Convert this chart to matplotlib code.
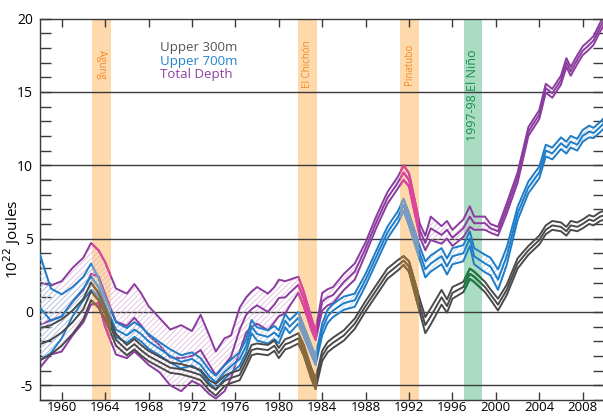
import matplotlib.pyplot as plt
from matplotlib.patches import Rectangle
from matplotlib.ticker import MultipleLocator
import numpy as np

plt.rcParams['font.family'] = ['Open Sans', 'DejaVu Sans']
plt.rcParams['hatch.linewidth'] = 0.5

########################
# Data
########################
years = [1958, 1959, 1960, 1961, 1962, 1962.7, 1963.4, 1964, 1965, 1966,
         1966.7, 1967.3, 1968, 1969, 1970, 1971, 1972, 1972.8, 1973.6, 1974.2,
         1975, 1975.6, 1976.4, 1977, 1977.5, 1978, 1979, 1979.6, 1980, 1980.6,
         1981, 1981.8, 1982.3, 1983, 1983.4, 1984, 1984.5, 1985, 1986, 1987,
         1988, 1989, 1990, 1991, 1991.5, 1992, 1993, 1993.5, 1994, 1995,
         1995.5, 1996, 1997, 1997.6, 1998, 1999, 1999.5, 2000.2, 2001, 2002,
         2003, 2004, 2004.6, 2005.2, 2006, 2006.5, 2006.9, 2007.5, 2008, 2008.6,
         2009, 2009.6, 2010]

# Upper 300m: centre of the bundle and half-width
upper300 = [-2.2, -1.9, -1.4, -0.7, 0.2, 1.4, 0.8, -0.1, -1.9, -2.6,
            -2.2, -2.6, -3.0, -3.4, -3.8, -3.9, -4.1, -4.3, -5.0, -5.3,
            -4.7, -4.5, -4.3, -3.4, -2.6, -2.5, -2.6, -2.3, -2.8, -2.2,
            -2.1, -1.8, -2.6, -4.2, -4.9, -3.0, -2.4, -2.1, -1.6, -0.8,
            0.4, 1.5, 2.6, 3.2, 3.5, 3.1, 0.4, -0.9, -0.3, 1.0,
            0.4, 1.3, 1.7, 2.6, 2.4, 1.7, 1.2, 0.5, 1.5, 3.3,
            4.2, 4.9, 5.6, 5.9, 5.8, 5.5, 5.9, 5.8, 6.0, 6.3,
            6.2, 6.5, 6.6]
upper300_spread = [1.1, 1.0, 0.9, 0.8, 0.7, 0.6, 0.5, 0.4, 0.4, 0.35,
                   0.35, 0.35, 0.35, 0.35, 0.35, 0.35, 0.35, 0.35, 0.35, 0.4,
                   0.35, 0.35, 0.35, 0.35, 0.35, 0.35, 0.35, 0.35, 0.35, 0.35,
                   0.35, 0.35, 0.35, 0.35, 0.35, 0.35, 0.35, 0.35, 0.35, 0.35,
                   0.35, 0.35, 0.35, 0.35, 0.3, 0.35, 0.45, 0.55, 0.55, 0.5,
                   0.45, 0.4, 0.35, 0.35, 0.35, 0.35, 0.35, 0.4, 0.35, 0.35,
                   0.3, 0.3, 0.3, 0.3, 0.3, 0.3, 0.3, 0.3, 0.3, 0.3,
                   0.3, 0.3, 0.3]

# Upper 700m
upper700 = [0.3, -0.6, -0.3, 0.7, 1.6, 2.4, 1.7, 0.5, -1.2, -1.6,
            -1.2, -1.5, -2.0, -2.5, -3.0, -3.4, -3.2, -3.6, -4.4, -4.8,
            -4.1, -3.7, -3.2, -2.3, -1.0, -1.5, -1.7, -1.4, -1.7, -0.6,
            -1.0, -0.4, -1.3, -2.6, -3.3, -1.2, -0.3, 0.1, 0.6, 0.8,
            2.2, 3.8, 5.4, 6.5, 7.3, 6.3, 4.0, 2.9, 3.3, 3.8,
            3.1, 3.8, 4.0, 5.0, 3.8, 3.3, 3.1, 2.2, 3.8, 6.7,
            8.5, 9.5, 11.0, 10.8, 11.5, 11.2, 11.6, 11.4, 12.0, 12.3,
            12.2, 12.6, 12.9]
upper700_spread = [3.6, 2.2, 1.5, 1.0, 0.8, 0.9, 0.6, 0.5, 0.5, 0.5,
                   0.5, 0.5, 0.5, 0.45, 0.45, 0.45, 0.45, 0.45, 0.45, 0.45,
                   0.45, 0.45, 0.45, 0.45, 0.45, 0.45, 0.45, 0.45, 0.45, 0.45,
                   0.45, 0.4, 0.35, 0.3, 0.3, 0.4, 0.45, 0.45, 0.45, 0.45,
                   0.4, 0.4, 0.4, 0.4, 0.4, 0.4, 0.45, 0.55, 0.55, 0.55,
                   0.55, 0.55, 0.55, 0.5, 0.55, 0.6, 0.6, 0.7, 0.6, 0.45,
                   0.4, 0.4, 0.4, 0.4, 0.4, 0.4, 0.4, 0.4, 0.4, 0.4,
                   0.35, 0.35, 0.35]

# Total depth
total_depth = [-0.9, -0.55, -0.3, 0.7, 1.5, 2.6, 2.4, 1.2, -0.65, -0.95,
               -0.4, -0.9, -1.6, -2.25, -3.1, -3.15, -3.0, -2.6, -3.6, -4.3,
               -3.6, -3.05, -1.2, -0.2, 0.2, 0.45, 0.0, 0.5, 0.95, 1.0,
               1.3, 1.85, 0.9, -0.8, -1.6, 0.7, 1.0, 1.15, 2.05, 2.75,
               4.35, 6.15, 7.75, 8.85, 9.5, 9.0, 5.55, 4.7, 5.7, 5.25,
               5.6, 5.05, 5.7, 6.5, 6.05, 6.05, 5.7, 5.5, 7.05, 9.15,
               12.3, 13.45, 15.25, 14.9, 15.8, 17.0, 16.4, 17.2, 17.8, 18.2,
               18.5, 19.4, 19.9]
total_depth_spread = [2.9, 2.35, 2.4, 2.3, 2.2, 2.1, 1.8, 2.2, 2.25, 2.2,
                      2.3, 2.2, 2.0, 1.85, 1.9, 2.25, 1.7, 2.4, 2.0, 1.6,
                      1.8, 1.45, 1.5, 1.2, 1.2, 1.25, 1.25, 1.2, 1.25, 1.1,
                      0.9, 0.55, 0.5, 0.4, 0.3, 0.6, 0.55, 0.55, 0.55, 0.55,
                      0.4, 0.4, 0.4, 0.4, 0.5, 0.45, 0.45, 0.5, 0.8, 0.6,
                      0.6, 0.55, 0.6, 0.7, 0.45, 0.45, 0.3, 0.3, 0.35, 0.35,
                      0.3, 0.3, 0.3, 0.3, 0.3, 0.3, 0.3, 0.3, 0.3, 0.3,
                      0.3, 0.3, 0.3]

# Volcanic eruptions and El Nino periods
volcanoes = ['Agung', 'El Chichón', 'Pinatubo']
volcano_start = [1962.8, 1981.8, 1991.15]
volcano_end = [1964.5, 1983.5, 1992.9]
nino_label = '1997-98 El Niño'
nino_start = 1997.05
nino_end = 1998.7

x = np.array(years)

fig = plt.figure(figsize=(6.03, 4.16), dpi=100)
ax = fig.add_axes([0.0663, 0.0385, 0.936, 0.917])

########################
# Background bands and grid
########################
for s, e in zip(volcano_start, volcano_end):
    ax.axvspan(s, e, color='#fdd9ab', lw=0, zorder=0)
ax.axvspan(nino_start, nino_end, color='#aadcc4', lw=0, zorder=0)

for v in [-5, 0, 5, 10, 15]:
    ax.axhline(v, color='#3a3a3a', lw=1.0, zorder=1)


def band_clip(x0, x1):
    return Rectangle((x0, -50), x1 - x0, 100, transform=ax.transData)


def draw_group(centre, spread, base, volc_col, nino_col, hatch_col, z):
    c = np.array(centre)
    s = np.array(spread)
    if hatch_col is not None:
        ax.fill_between(x, c - s, c + s, facecolor='none', edgecolor=hatch_col,
                        hatch='//////', lw=0, zorder=z)
    for y in [c - s, c, c + s]:
        ax.plot(x, y, color=base, lw=1.4, zorder=z + 0.1)
        for s0, e0 in zip(volcano_start, volcano_end):
            ln, = ax.plot(x, y, color=volc_col, lw=1.4, zorder=z + 0.2)
            ln.set_clip_path(band_clip(s0, e0))
        if nino_col is not None:
            ln, = ax.plot(x, y, color=nino_col, lw=1.4, zorder=z + 0.2)
            ln.set_clip_path(band_clip(nino_start, nino_end))


draw_group(total_depth, total_depth_spread, '#8b3c9f', '#e0449c', None, '#d9b0d8', 2)
draw_group(upper700, upper700_spread, '#1f7cc6', '#7d9cc0', None, '#a9cbe8', 3)
draw_group(upper300, upper300_spread, '#4a4a4a', '#8a6a3c', '#1b7a40', None, 4)

########################
# Labels
########################
for name, s, e in zip(volcanoes, volcano_start, volcano_end):
    rot = 270 if name == 'Agung' else 90
    ax.text((s + e) / 2, 16.9, name, rotation=rot, ha='center', va='center',
            fontsize=7, color='#f28a2a', zorder=6)
ax.text((nino_start + nino_end) / 2, 14.8, nino_label, rotation=90, ha='center',
        va='center', fontsize=9, color='#1a8f4c', zorder=6)

ax.text(1969.1, 18.05, 'Upper 300m', fontsize=9.5, color='#555555', va='center')
ax.text(1969.1, 17.1, 'Upper 700m', fontsize=9.5, color='#1f84d0', va='center')
ax.text(1969.1, 16.15, 'Total Depth', fontsize=9.5, color='#8e3fa3', va='center')

########################
# Axes
########################
ax.set_xlim(1958, 2010)
ax.set_ylim(-6, 20)
ax.set_xticks(range(1960, 2010, 4))
ax.set_yticks([-5, 0, 5, 10, 15, 20])
ax.set_yticklabels(['-5', '0', '5', '10', '15', '20'])
ax.yaxis.set_minor_locator(MultipleLocator(1))
ax.tick_params(axis='y', which='both', direction='in', left=True, right=True,
               length=8, width=1, color='#3a3a3a', labelsize=10, pad=5)
ax.tick_params(axis='x', which='major', direction='in', top=True, bottom=True,
               length=6, width=1, color='#3a3a3a', labelsize=9.5, pad=1)
for sp in ax.spines.values():
    sp.set_color('#3a3a3a')
    sp.set_linewidth(1.0)

ax.set_ylabel('10$^{22}$ Joules', fontsize=11)
ax.yaxis.set_label_coords(-0.03, 0.42)

plt.savefig('out.png', dpi=100)
